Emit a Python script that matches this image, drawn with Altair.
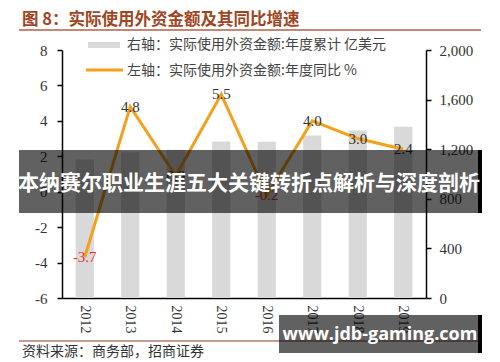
import altair as alt
import pandas as pd

# ---- data ----
years = ["2012", "2013", "2014", "2015", "2016", "2017", "2018", "2019"]
fdi_total = [1117, 1176, 1196, 1263, 1260, 1310, 1350, 1381]   # right axis, 亿美元
fdi_yoy = [-3.7, 4.8, 0.9, 5.5, -0.2, 4.0, 3.0, 2.4]            # left axis, %
left_ticks = [-6, -4, -2, 0, 2, 4, 6, 8]
right_ticks = [0, 400, 800, 1200, 1600, 2000]

title_text = "图 8：实际使用外资金额及其同比增速"
legend_bar_text = "右轴：实际使用外资金额:年度累计 亿美元"
legend_line_text = "左轴：实际使用外资金额:年度同比 %"
source_text = "资料来源：商务部，招商证券"
banner_text = "本纳赛尔职业生涯五大关键转折点解析与深度剖析"
watermark_text = "www.jdb-gaming.com"

df = pd.DataFrame({"year": years, "fdi": fdi_total, "yoy": fdi_yoy})

# plot-area origin in page coordinates
OX, OY = 62, 50
def px(x):
    return x - OX
def py(y):
    return y - OY

SERIF = "Liberation Serif"
CJK = "Noto Sans CJK SC"
ORANGE = "#F5A01A"
BAR = "#D9D9D9"
HYPHEN = "replace(datum.label, '\u2212', '-')"

xscale = alt.Scale(paddingInner=0.6, paddingOuter=0.3)
xaxis = alt.Axis(title=None, labelAngle=90, labelFont=SERIF, labelFontSize=14,
                 labelColor="#333", ticks=False, domainColor="#000",
                 domainWidth=1.5, labelPadding=7, zindex=0)

bars = alt.Chart(df).mark_bar(color=BAR).encode(
    x=alt.X("year:O", scale=xscale, axis=xaxis),
    y=alt.Y("fdi:Q", scale=alt.Scale(domain=[0, 2000], nice=False, zero=True),
            axis=alt.Axis(orient="right", title=None, values=right_ticks, format=",.0f",
                          labelFont=SERIF, labelFontSize=15, labelColor="#333",
                          tickSize=5, tickColor="#000", tickWidth=1.5,
                          domainColor="#000", domainWidth=1.5, labelPadding=8,
                          grid=False, zindex=0)),
)

yleft = alt.Y("yoy:Q", scale=alt.Scale(domain=[-6, 8], nice=False, zero=False),
              axis=alt.Axis(orient="left", title=None, values=left_ticks,
                            labelExpr=HYPHEN,
                            labelFont=SERIF, labelFontSize=15, labelColor="#333",
                            tickSize=5, tickColor="#000", tickWidth=1.5,
                            domainColor="#000", domainWidth=1.5, labelPadding=10,
                            grid=False, zindex=0))

line = alt.Chart(df).mark_line(color=ORANGE, strokeWidth=3).encode(
    x=alt.X("year:O", scale=xscale, axis=xaxis),
    y=yleft,
)
labels = alt.Chart(df).transform_calculate(
    lab="replace(format(datum.yoy, '.1f'), '\u2212', '-')"
).mark_text(font=SERIF, fontSize=15, baseline="middle").encode(
    x=alt.X("year:O", scale=xscale, axis=xaxis),
    y=yleft,
    text="lab:N",
    color=alt.condition(alt.datum.yoy < 0, alt.value("#E8353A"), alt.value("#333333")),
)
line_layer = alt.layer(line, labels)


def one(**kw):
    return pd.DataFrame({k: [v] for k, v in kw.items()})


def text_at(s, x, y, size, color, font=CJK, weight="normal", align="left"):
    return alt.Chart(one(t=s)).mark_text(
        font=font, fontSize=size, fontWeight=weight, color=color,
        align=align, baseline="middle").encode(
        x=alt.value(px(x)), y=alt.value(py(y)), text="t:N")


def rule_at(x1, x2, y, color, w):
    return alt.Chart(one(a=1)).mark_rule(color=color, strokeWidth=w).encode(
        x=alt.value(px(x1)), x2=alt.value(px(x2)), y=alt.value(py(y)))


def rect_at(x1, x2, y1, y2, color, op=1.0):
    return alt.Chart(one(a=1)).mark_rect(color=color, opacity=op).encode(
        x=alt.value(px(x1)), x2=alt.value(px(x2)),
        y=alt.value(py(y1)), y2=alt.value(py(y2)))


deco = [
    text_at(title_text, 22, 20, 16.5, "#A0451F", weight="bold"),
    rule_at(19, 481, 30, "#B0604A", 1.5),
    rect_at(88, 120, 42, 48, BAR),
    text_at(legend_bar_text, 127, 45, 14, "#444444"),
    rule_at(86, 123, 70, ORANGE, 3),
    text_at(legend_line_text, 127, 71, 14, "#444444"),
    rule_at(19, 481, 341, "#8B3A2A", 1),
    text_at(source_text, 22, 352, 14, "#333333"),
    rect_at(19, 479, 150, 213, "#000000", 0.62),
    rect_at(478, 482, 150, 213, "#000000", 1.0),
    text_at(banner_text, 249, 184, 21, "#FFFFFF", weight="bold", align="center"),
    rect_at(279, 479, 315, 353, "#000000", 0.62),
    rect_at(478, 482, 315, 353, "#000000", 1.0),
    text_at(watermark_text, 380, 335, 18, "#FFFFFF", font="Open Sans",
            weight="bold", align="center"),
]

chart = alt.layer(bars, line_layer, *deco).resolve_scale(y="independent").properties(
    width=364, height=248,
    autosize=alt.AutoSizeParams(type="none"),
    padding={"left": 54, "top": 42, "right": 58, "bottom": 64},
    background="white",
).configure_view(stroke=None)

chart.save("out.html", embed_options={"renderer": "svg", "actions": False})
